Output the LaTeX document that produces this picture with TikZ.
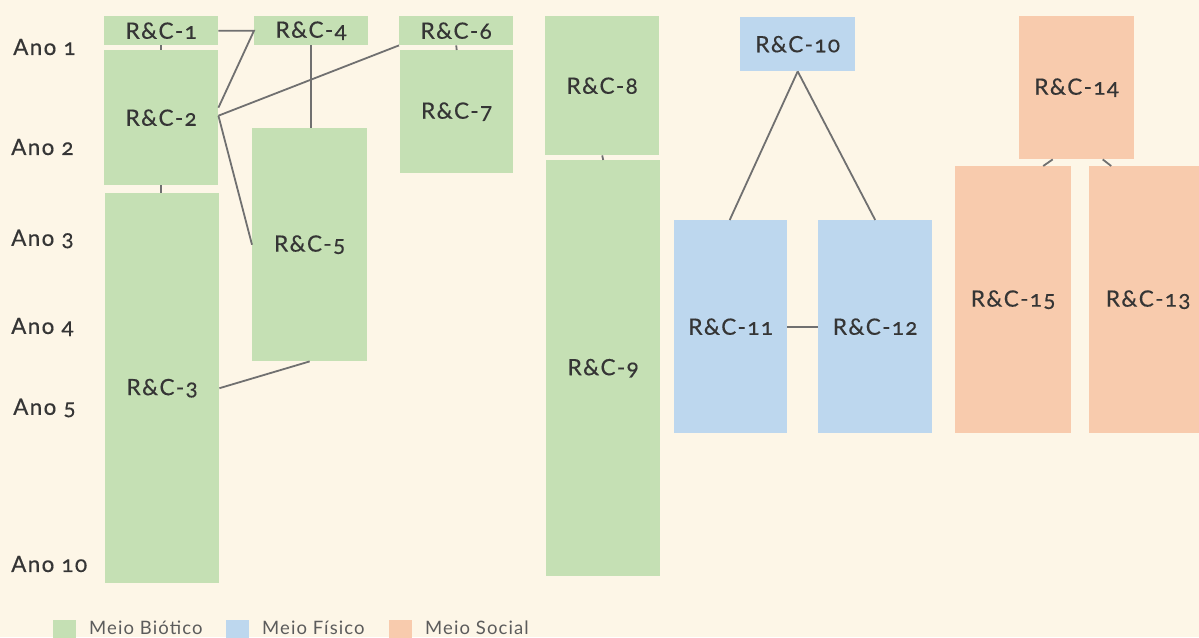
\documentclass[tikz,border=0pt]{standalone}
\usepackage{fontspec}
\setmainfont{Lato}[Numbers=OldStyle]
\newfontfamily\lblfont{Lato}[Numbers=OldStyle, LetterSpace=6, FakeBold=0.4]
\newfontfamily\legfont{Lato}[Numbers=OldStyle, LetterSpace=6]
\definecolor{bg}{HTML}{FDF6E7}
\definecolor{gfill}{HTML}{C5E0B4}
\definecolor{bfill}{HTML}{BDD7EE}
\definecolor{pfill}{HTML}{F8CBAD}
\definecolor{txt}{HTML}{353535}
\definecolor{lgtxt}{HTML}{5C5C5C}
\definecolor{conn}{HTML}{707070}
\tikzset{
  rcbox/.style={anchor=north west, inner sep=0pt, text=txt, font=\lblfont\fontsize{22.5}{26}\selectfont},
  gbox/.style={rcbox, fill=gfill},
  bbox/.style={rcbox, fill=bfill},
  pbox/.style={rcbox, fill=pfill},
  yearlbl/.style={anchor=west, inner sep=0pt, text=txt, font=\lblfont\fontsize{22.5}{26}\selectfont},
  legsq/.style={anchor=north west, inner sep=0pt, minimum width=23pt, minimum height=20pt},
  legtxt/.style={anchor=west, inner sep=0pt, text=lgtxt, font=\legfont\fontsize{18.5}{22}\selectfont},
  link/.style={draw=conn, line width=1.8pt}
}
\begin{document}
\begin{tikzpicture}[x=1pt,y=-1pt]
\useasboundingbox (0,0) rectangle (1199,637);
\fill[bg] (0,0) rectangle (1199,637);
% year labels
\node[yearlbl] (a1) at (13,47) {Ano 1};
\node[yearlbl] (a2) at (11,147) {Ano 2};
\node[yearlbl] (a3) at (11,239) {Ano 3};
\node[yearlbl] (a4) at (11,327) {Ano 4};
\node[yearlbl] (a5) at (13,408) {Ano 5};
\node[yearlbl] (a10) at (11,564) {Ano 10};
% green boxes
\node[gbox, minimum width=114pt, minimum height=29pt] (r1) at (104,16) {R\&C-1};
\node[gbox, minimum width=114pt, minimum height=135pt] (r2) at (104,50) {R\&C-2};
\node[gbox, minimum width=114pt, minimum height=390pt] (r3) at (105,193) {R\&C-3};
\node[gbox, minimum width=114pt, minimum height=29pt] (r4) at (254,16) {R\&C-4};
\node[gbox, minimum width=115pt, minimum height=233pt] (r5) at (252,128) {R\&C-5};
\node[gbox, minimum width=114pt, minimum height=29pt] (r6) at (399,16) {R\&C-6};
\node[gbox, minimum width=113pt, minimum height=123pt] (r7) at (400,50) {R\&C-7};
\node[gbox, minimum width=114pt, minimum height=139pt] (r8) at (545,16) {R\&C-8};
\node[gbox, minimum width=114pt, minimum height=416pt] (r9) at (546,160) {R\&C-9};
% blue boxes
\node[bbox, minimum width=115pt, minimum height=54pt] (r10) at (740,17) {R\&C-10};
\node[bbox, minimum width=113pt, minimum height=213pt] (r11) at (674,220) {R\&C-11};
\node[bbox, minimum width=114pt, minimum height=213pt] (r12) at (818,220) {R\&C-12};
% peach boxes
\node[pbox, minimum width=115pt, minimum height=143pt] (r14) at (1019,16) {R\&C-14};
\node[pbox, minimum width=116pt, minimum height=267pt] (r15) at (955,166) {R\&C-15};
\node[pbox, minimum width=118pt, minimum height=267pt] (r13) at (1089,166) {R\&C-13};
% connectors
\draw[link] (r1.south) -- (r2.north -| r1.south);
\draw[link] (r2.south) -- (r2.south |- r3.north);
\draw[link] (r1.east) -- (r4.west) -- ([yshift=10pt]r2.east);
\draw[link] ([yshift=2pt]r2.east) -- (r6.south west);
\draw[link] ([yshift=2pt]r2.east) -- (r5.west);
\draw[link] (r4.south) -- (r4.south |- r5.north);
\draw[link] (r3.east) -- (r5.south);
\draw[link] (r6.south) -- (r7.north);
\draw[link] (r8.south) -- (r9.north);
\draw[link] (r10.south) -- ([xshift=-1pt]r11.north);
\draw[link] (r10.south) -- (r12.north);
\draw[link] (r11.east) -- (r12.west);
\draw[link] ([xshift=-24pt]r14.south) -- ([xshift=30pt]r15.north);
\draw[link] ([xshift=26pt]r14.south) -- ([xshift=-37pt]r13.north);
% legend
\node[legsq, fill=gfill] (lg1) at (53,620) {};
\node[legtxt] (lt1) at (89,628) {Meio Biótico};
\node[legsq, fill=bfill] (lg2) at (226,620) {};
\node[legtxt] (lt2) at (262,628) {Meio Físico};
\node[legsq, fill=pfill] (lg3) at (389,620) {};
\node[legtxt] (lt3) at (425,628) {Meio Social};
\end{tikzpicture}
\end{document}
